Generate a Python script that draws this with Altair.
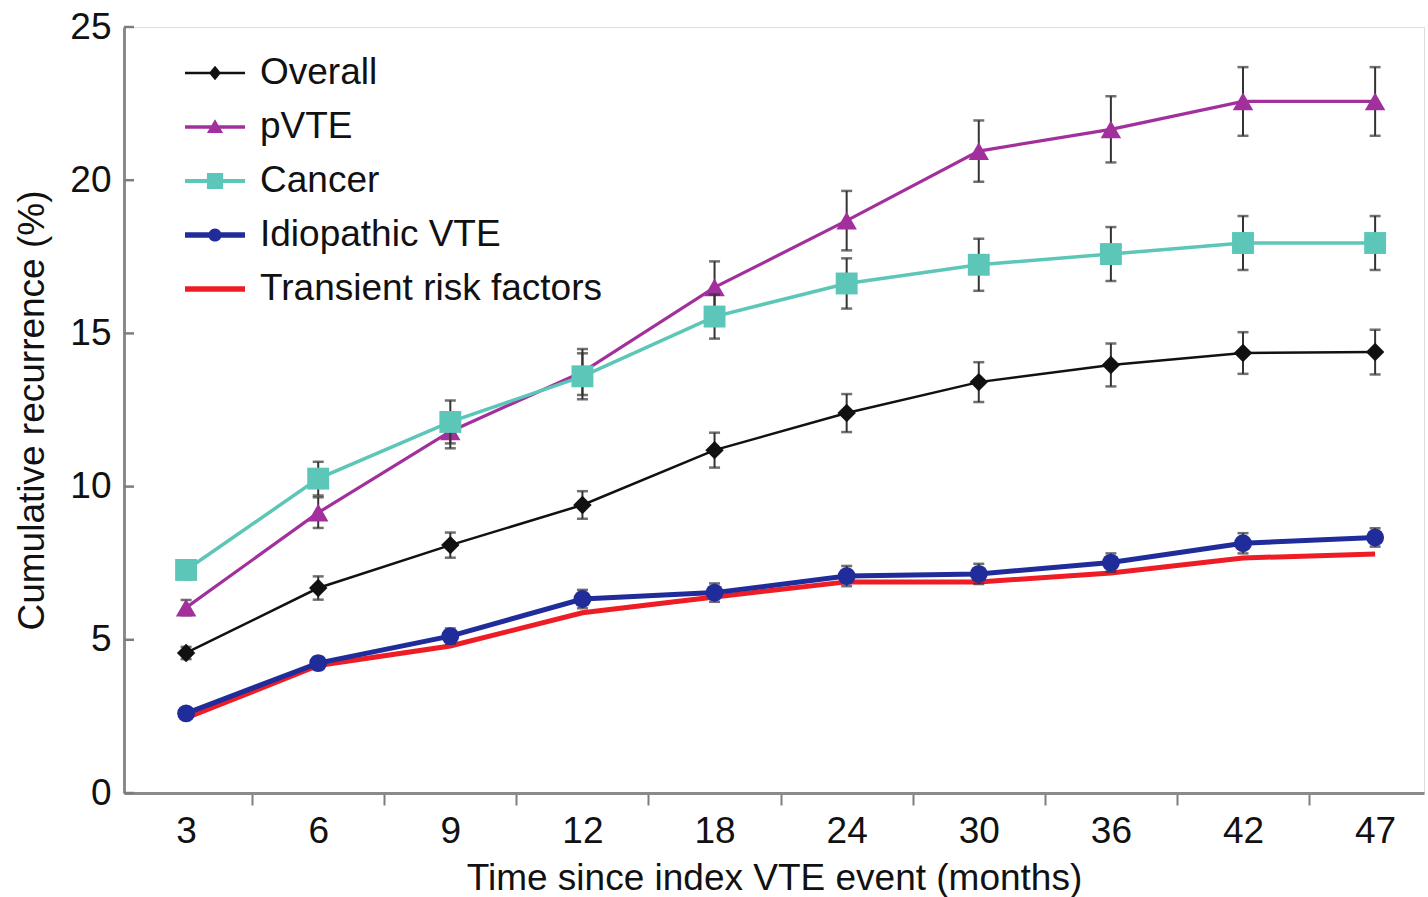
import altair as alt
import pandas as pd

# Follow-up time points (months), drawn as equally spaced categories
months = [3, 6, 9, 12, 18, 24, 30, 36, 42, 47]

series_names = ["Overall", "pVTE", "Cancer", "Idiopathic VTE", "Transient risk factors"]
series_colors = ["#111111", "#a2309c", "#5cc6b8", "#1f2c9a", "#ee1c25"]

# Cumulative recurrence (%) and error-bar half widths
overall = [4.57, 6.69, 8.09, 9.40, 11.19, 12.40, 13.41, 13.97, 14.36, 14.39]
overall_err = [0.20, 0.38, 0.41, 0.45, 0.57, 0.62, 0.65, 0.70, 0.68, 0.73]

pvte = [6.05, 9.15, 11.80, 13.74, 16.50, 18.68, 20.95, 21.66, 22.57, 22.57]
pvte_err = [0.25, 0.50, 0.55, 0.75, 0.85, 0.97, 1.00, 1.08, 1.12, 1.12]

cancer = [7.28, 10.26, 12.11, 13.60, 15.55, 16.63, 17.24, 17.59, 17.95, 17.95]
cancer_err = [0.30, 0.55, 0.70, 0.75, 0.72, 0.82, 0.85, 0.88, 0.88, 0.88]

idiopathic = [2.60, 4.24, 5.12, 6.33, 6.54, 7.08, 7.15, 7.52, 8.15, 8.34]
idiopathic_err = [0.15, 0.20, 0.25, 0.30, 0.30, 0.33, 0.33, 0.30, 0.33, 0.30]

transient = [2.45, 4.16, 4.80, 5.88, 6.40, 6.89, 6.89, 7.18, 7.67, 7.80]

y_tick_values = [0, 5, 10, 15, 20, 25]

FONT = "Liberation Sans"
FS = 37

# Per-series drawing style
line_widths = {"Overall": 2.5, "pVTE": 3.2, "Cancer": 3.5, "Idiopathic VTE": 5, "Transient risk factors": 5}
marker_shapes = {"Overall": "diamond", "pVTE": "triangle-up", "Cancer": "square", "Idiopathic VTE": "circle"}
marker_sizes = {"Overall": 340, "pVTE": 420, "Cancer": 480, "Idiopathic VTE": 320}

# Legend glyphs: a short filled bar (the line) with the series marker on top,
# in symbol units where -1..1 spans the whole symbol width
legend_paths = [
    "M-1,-0.042L1,-0.042L1,0.042L-1,0.042Z M0,-0.24L0.2,0L0,0.24L-0.2,0Z",
    "M-1,-0.055L1,-0.055L1,0.055L-1,0.055Z M0,-0.26L0.27,0.2L-0.27,0.2Z",
    "M-1,-0.065L1,-0.065L1,0.065L-1,0.065Z M-0.27,-0.27L0.27,-0.27L0.27,0.27L-0.27,0.27Z",
    "M-1,-0.09L1,-0.09L1,0.09L-1,0.09Z M-0.22,0A0.22,0.22 0 1,1 0.22,0A0.22,0.22 0 1,1 -0.22,0Z",
    "M-1,-0.09L1,-0.09L1,0.09L-1,0.09Z",
]

values = {
    "Overall": (overall, overall_err),
    "pVTE": (pvte, pvte_err),
    "Cancer": (cancer, cancer_err),
    "Idiopathic VTE": (idiopathic, idiopathic_err),
    "Transient risk factors": (transient, None),
}

rows = []
for name in series_names:
    vals, errs = values[name]
    for i, m in enumerate(months):
        e = errs[i] if errs is not None else None
        rows.append({
            "idx": i, "month": m, "series": name, "value": vals[i],
            "lo": vals[i] - e if e is not None else None,
            "hi": vals[i] + e if e is not None else None,
        })
df = pd.DataFrame(rows)

legend = alt.Legend(
    title=None, orient="none", legendX=61, legendY=16, padding=0,
    symbolSize=3600, symbolStrokeWidth=0, symbolOpacity=1,
    labelFontSize=FS, labelFont=FONT, labelLimit=0,
    labelColor="#111111", labelOffset=15, rowPadding=6,
)

color = alt.Color("series:N", scale=alt.Scale(domain=series_names, range=series_colors), legend=legend)
shape = alt.Shape("series:N", scale=alt.Scale(domain=series_names, range=legend_paths), legend=legend)

label_list = "[" + ",".join(f"'{m}'" for m in months) + "]"
x_axis = alt.Axis(
    values=[i * 0.5 for i in range(0, 19)],
    labelExpr=f"datum.value % 1 === 0 ? {label_list}[round(datum.value)] : ''",
    tickOpacity={"condition": {"test": "datum.value % 1 === 0", "value": 0}, "value": 1},
    tickSize=12, tickWidth=2, tickColor="#7d7d7d",
    domainColor="#8a8a8a", domainWidth=3,
    labelFontSize=FS, labelFont=FONT, labelColor="#111111", labelPadding=8,
    labelFlush=False,
    title="Time since index VTE event (months)", titleFontSize=FS,
    titleFont=FONT, titleFontWeight="normal", titleColor="#111111", titlePadding=11,
    grid=False,
)
y_axis = alt.Axis(
    values=y_tick_values, tickSize=0, domainColor="#8a8a8a", domainWidth=3,
    labelFontSize=FS, labelFont=FONT, labelColor="#111111", labelPadding=13,
    title="Cumulative recurrence (%)", titleFontSize=FS, titleFont=FONT,
    titleFontWeight="normal", titleColor="#111111", titlePadding=18, grid=False,
)

x = alt.X("idx:Q", scale=alt.Scale(domain=[-0.47, 9.37], nice=False, zero=False), axis=x_axis)
y = alt.Y("value:Q", scale=alt.Scale(domain=[0, 25], nice=False), axis=y_axis)

base = alt.Chart(df)

layers = []
# legend carrier: no marks are drawn, it only supplies the colour/shape legend
layers.append(
    base.transform_filter("false").mark_point(filled=True, size=3600, opacity=1).encode(
        x=x, y=y, color=color, shape=shape
    )
)
# inward tick marks on the y axis
layers.append(
    alt.Chart(pd.DataFrame({"v": y_tick_values})).mark_rule(color="#7d7d7d", strokeWidth=2.5).encode(
        y=alt.Y("v:Q"), x=alt.value(0), x2=alt.value(10)
    )
)

draw_order = ["Transient risk factors", "Idiopathic VTE", "Overall", "pVTE", "Cancer"]
for name in draw_order:
    s = base.transform_filter(alt.datum.series == name)
    layers.append(s.mark_line(strokeWidth=line_widths[name]).encode(x=x, y=y, color=color))
    if name in marker_shapes:
        bars = s.transform_filter("isValid(datum.lo)")
        layers.append(bars.mark_rule(color="#333333", strokeWidth=2).encode(
            x=x, y=alt.Y("lo:Q"), y2="hi:Q"))
        layers.append(bars.mark_tick(color="#333333", orient="horizontal", size=11, thickness=2.5).encode(
            x=x, y=alt.Y("lo:Q")))
        layers.append(bars.mark_tick(color="#333333", orient="horizontal", size=11, thickness=2.5).encode(
            x=x, y=alt.Y("hi:Q")))
        layers.append(s.mark_point(shape=marker_shapes[name], size=marker_sizes[name], filled=True,
                                   opacity=1).encode(x=x, y=y, color=color))

chart = alt.layer(*layers).properties(
    width=1300, height=766,
    autosize=alt.AutoSizeParams(type="none"),
    padding={"left": 124, "top": 27, "right": 4, "bottom": 104},
).configure_view(stroke=None).configure(background="white")

chart.save("out.html", embed_options={"renderer": "svg", "actions": False})
